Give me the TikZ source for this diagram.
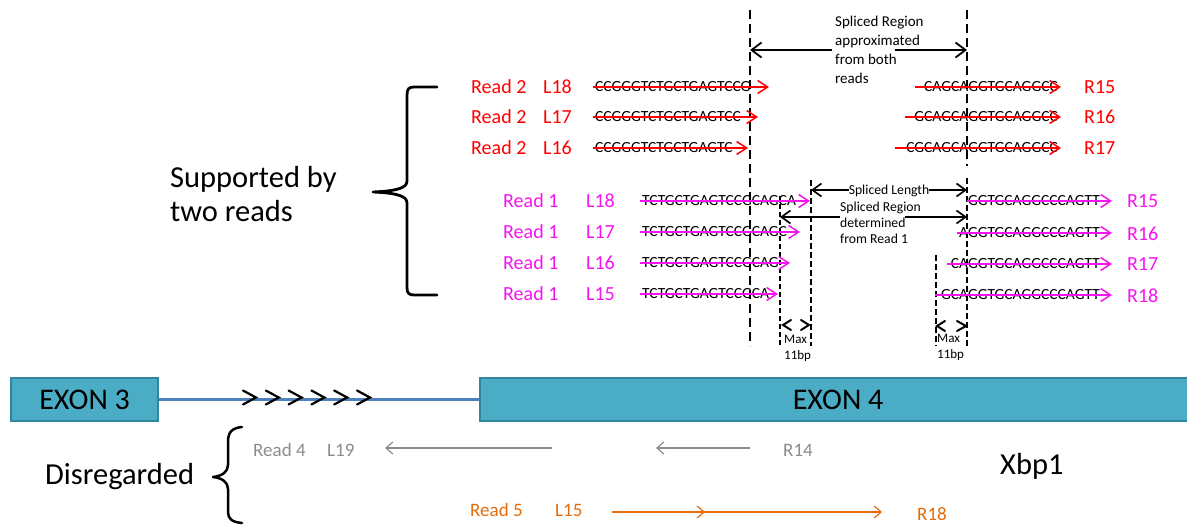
\documentclass[tikz,border=0pt]{standalone}
\usepackage{fontspec}
\setmainfont{Carlito}
\usetikzlibrary{arrows.meta}
\definecolor{rd}{RGB}{255,0,0}
\definecolor{mg}{RGB}{245,20,240}
\definecolor{gr}{RGB}{140,140,140}
\definecolor{og}{RGB}{228,108,10}
\definecolor{exfill}{RGB}{75,172,198}
\definecolor{exline}{RGB}{49,133,156}
\definecolor{intron}{RGB}{79,129,189}
\tikzset{
  lbl/.style={inner sep=0pt, anchor=west, text height=12.9pt, text depth=0pt, font=\fontsize{20}{24}\selectfont},
  glbl/.style={inner sep=0pt, anchor=west, text height=12.2pt, text depth=0pt, font=\fontsize{19}{22}\selectfont},
  seqL/.style={inner sep=0pt, anchor=west, text height=10pt, text depth=0pt, font=\fontsize{15.5}{18}\selectfont},
  seqR/.style={seqL, anchor=east},
  bigtxt/.style={inner sep=0pt, font=\fontsize{30.5}{34}\selectfont, align=left},
  bigone/.style={inner sep=0pt, anchor=west, text height=19.6pt, text depth=0pt, font=\fontsize{30.5}{34}\selectfont},
  small/.style={inner sep=0pt, font=\fontsize{13.7}{16}\selectfont, align=left},
  strike/.style={line width=1.5pt, -{Straight Barb[length=10pt,width=13pt,line width=1.5pt]}},
  ann/.style={line width=1.7pt, -{Straight Barb[length=9pt,width=13pt,line width=1.7pt]}},
  thinarr/.style={line width=1.2pt, -{Straight Barb[length=7pt,width=12pt,line width=1.2pt]}},
  bigdash/.style={line width=2.3pt, dash pattern=on 9pt off 5pt},
  meddash/.style={line width=1.5pt, dash pattern=on 6pt off 3pt},
  brace/.style={line width=2.8pt, line cap=round, line join=round},
  exon/.style={draw=exline, line width=2.2pt, fill=exfill, inner sep=0pt, anchor=north west, minimum height=43pt, font=\fontsize{30}{34}\selectfont},
  chev/.style={line width=2pt, line cap=round, line join=miter}
}
\begin{document}
\begin{tikzpicture}[x=1pt,y=-1pt]
\useasboundingbox (0,0) rectangle (1187,526);
\clip (0,0) rectangle (1187,526);

% ---------- gene model ----------
\node[exon, minimum width=147pt] (ex3) at (10,377) {EXON 3};
\node[exon, minimum width=716pt] (ex4) at (479,377) {EXON 4};
\draw[intron, line width=2.6pt] (ex3.east) -- (ex4.west);
\foreach \i in {0,...,5} {
  \draw[chev, line width=2.2pt] (243+22.8*\i,390.5) -- (256+22.8*\i,397.5) -- (243+22.8*\i,404.5);
}

% ---------- left labels and braces ----------
\node[bigtxt, anchor=north west] (supp) at (170,166) {Supported by\\two reads};
\draw[brace] (437,87) -- (414,87) .. controls (409,87) and (407,89) .. (407,95) -- (407,181)
  .. controls (407,188) and (397,191) .. (373,192) .. controls (397,193) and (407,196) .. (407,203)
  -- (407,288) .. controls (407,293) and (409,295) .. (414,295) -- (437,295);
\node[bigone] (disr) at (45,475) {Disregarded};
\draw[brace, line width=2.5pt] (242,427) .. controls (232,428) and (228,432) .. (228,442) -- (228,465)
  .. controls (228,472) and (222,476) .. (213,477) .. controls (222,478) and (228,482) .. (228,489)
  -- (228,512) .. controls (228,519) and (232,522) .. (242,523);
\node[bigone] (xbp) at (1000,465) {Xbp1};

% ---------- dashed guide lines ----------
\coordinate (dA1) at (750,10);  \coordinate (dA2) at (750,346);
\coordinate (dB1) at (967,10);  \coordinate (dB2) at (967,166);
\coordinate (dB3) at (967,178); \coordinate (dB4) at (967,346);
\coordinate (dC1) at (811,180); \coordinate (dC2) at (811,346);
\coordinate (dD1) at (780,196); \coordinate (dD2) at (780,346);
\coordinate (dE1) at (936,255); \coordinate (dE2) at (936,346);
\draw[bigdash] (dA1) -- (dA2);
\draw[bigdash] (dB1) -- (dB2);
\draw[meddash] (dB3) -- (dB4);
\draw[meddash] (dC1) -- (dC2);
\draw[meddash, line width=1.3pt, dash pattern=on 5pt off 3pt] (dD1) -- (dD2);
\draw[meddash] (dE1) -- (dE2);

% ---------- annotations ----------
\node[small, anchor=north west, font=\fontsize{15}{19}\selectfont] (apx) at (835,16)
  {Spliced Region\\approximated\\from both\\reads};
\coordinate (apxL) at (832,50); \coordinate (apxR) at (895,50);
\coordinate (apxA) at (750,50); \coordinate (apxB) at (967,50);
\draw[ann, -{Straight Barb[length=10pt,width=15pt,line width=1.8pt]}, line width=1.8pt] (apxL) -- (apxA);
\draw[ann, -{Straight Barb[length=10pt,width=15pt,line width=1.8pt]}, line width=1.8pt] (apxR) -- (apxB);

\node[small, anchor=center, text height=8.8pt, text depth=0pt] (slen) at (889,190) {Spliced Length};
\coordinate (slA) at (811,190); \coordinate (slB) at (967,190);
\draw[ann] (slen.west) -- (slA);
\draw[ann] (slen.east) -- (slB);

\node[small, anchor=north west] (sdet) at (840,202) {Spliced Region\\determined\\from Read 1};
\coordinate (sdL) at (840,217); \coordinate (sdR) at (905,217);
\coordinate (sdA) at (780,217); \coordinate (sdB) at (967,217);
\draw[ann] (sdL) -- (sdA);
\draw[ann] (sdR) -- (sdB);

% Max 11bp markers
\draw[chev] (791,320) -- (783,325) -- (791,330);
\draw[chev] (801,320) -- (809,325) -- (801,330);
\node[small, anchor=north west, font=\fontsize{13}{16}\selectfont] (max1) at (784,334.5) {Max\\11bp};
\draw[chev] (945,321) -- (937,326) -- (945,331);
\draw[chev] (957,321) -- (966,326) -- (957,331);
\node[small, anchor=north west, font=\fontsize{13}{16}\selectfont] (max2) at (937,333.5) {Max\\11bp};

% ---------- Read 2 (red) ----------
\node[lbl, text=rd] (r2a) at (471,87) {Read 2};
\node[lbl, text=rd] (r2al) at (543,87) {L18};
\node[seqL] (r2as) at (595,87) {CCGGGTCTGCTGAGTCCG};
\coordinate (r2a0) at (593,87); \coordinate (r2a1) at (769,87);
\draw[strike, rd] (r2a0) -- (r2a1);
\node[seqR] (r2at) at (1058,87) {CAGCAGGTGCAGGCC};
\coordinate (r2a2) at (915,87); \coordinate (r2a3) at (1061,87);
\draw[strike, rd] (r2a2) -- (r2a3);
\node[lbl, text=rd] (r2ar) at (1084,87) {R15};

\node[lbl, text=rd] (r2b) at (471,117) {Read 2};
\node[lbl, text=rd] (r2bl) at (543,117) {L17};
\node[seqL] (r2bs) at (595,117) {CCGGGTCTGCTGAGTCC};
\coordinate (r2b0) at (593,117); \coordinate (r2b1) at (758,117);
\draw[strike, rd] (r2b0) -- (r2b1);
\node[seqR] (r2bt) at (1058,117) {GCAGCAGGTGCAGGCC};
\coordinate (r2b2) at (905,117); \coordinate (r2b3) at (1061,117);
\draw[strike, rd] (r2b2) -- (r2b3);
\node[lbl, text=rd] (r2br) at (1084,117) {R16};

\node[lbl, text=rd] (r2c) at (471,148) {Read 2};
\node[lbl, text=rd] (r2cl) at (543,148) {L16};
\node[seqL] (r2cs) at (595,148) {CCGGGTCTGCTGAGTC};
\coordinate (r2c0) at (593,148); \coordinate (r2c1) at (748,148);
\draw[strike, rd] (r2c0) -- (r2c1);
\node[seqR] (r2ct) at (1058,148) {CGCAGCAGGTGCAGGCC};
\coordinate (r2c2) at (895,148); \coordinate (r2c3) at (1061,148);
\draw[strike, rd] (r2c2) -- (r2c3);
\node[lbl, text=rd] (r2cr) at (1084,148) {R17};

% ---------- Read 1 (magenta) ----------
\node[lbl, text=mg] (r1a) at (503,201) {Read 1};
\node[lbl, text=mg] (r1al) at (586,201) {L18};
\node[seqL] (r1as) at (642,201) {TCTGCTGAGTCCGCAGCA};
\coordinate (r1a0) at (640,201); \coordinate (r1a1) at (810,201);
\draw[strike, mg] (r1a0) -- (r1a1);
\node[seqR] (r1at) at (1100,201) {GGTGCAGGCCCAGTT};
\coordinate (r1a2) at (967,201); \coordinate (r1a3) at (1112,201);
\draw[strike, mg] (r1a2) -- (r1a3);
\node[lbl, text=mg] (r1ar) at (1127,201) {R15};

\node[lbl, text=mg] (r1b) at (503,232) {Read 1};
\node[lbl, text=mg] (r1bl) at (586,232) {L17};
\node[seqL] (r1bs) at (642,232) {TCTGCTGAGTCCGCAGC};
\coordinate (r1b0) at (640,232); \coordinate (r1b1) at (800,232);
\draw[strike, mg] (r1b0) -- (r1b1);
\node[seqR] (r1bt) at (1100,233) {AGGTGCAGGCCCAGTT};
\coordinate (r1b2) at (957,233); \coordinate (r1b3) at (1112,233);
\draw[strike, mg] (r1b2) -- (r1b3);
\node[lbl, text=mg] (r1br) at (1127,234) {R16};

\node[lbl, text=mg] (r1c) at (503,263) {Read 1};
\node[lbl, text=mg] (r1cl) at (586,263) {L16};
\node[seqL] (r1cs) at (642,263) {TCTGCTGAGTCCGCAG};
\coordinate (r1c0) at (640,263); \coordinate (r1c1) at (790,263);
\draw[strike, mg] (r1c0) -- (r1c1);
\node[seqR] (r1ct) at (1100,264) {CAGGTGCAGGCCCAGTT};
\coordinate (r1c2) at (947,264); \coordinate (r1c3) at (1112,264);
\draw[strike, mg] (r1c2) -- (r1c3);
\node[lbl, text=mg] (r1cr) at (1127,264) {R17};

\node[lbl, text=mg] (r1d) at (503,294) {Read 1};
\node[lbl, text=mg] (r1dl) at (586,294) {L15};
\node[seqL] (r1ds) at (642,294) {TCTGCTGAGTCCGCA};
\coordinate (r1d0) at (640,294); \coordinate (r1d1) at (778,294);
\draw[strike, mg] (r1d0) -- (r1d1);
\node[seqR] (r1dt) at (1100,295) {GCAGGTGCAGGCCCAGTT};
\coordinate (r1d2) at (935,295); \coordinate (r1d3) at (1112,295);
\draw[strike, mg] (r1d2) -- (r1d3);
\node[lbl, text=mg] (r1dr) at (1127,296) {R18};

% ---------- disregarded reads ----------
\node[glbl, text=gr] (r4) at (253,450) {Read 4};
\node[glbl, text=gr] (r4l) at (327,450) {L19};
\coordinate (g1s) at (552,448); \coordinate (g1e) at (385,448);
\draw[thinarr, gr] (g1s) -- (g1e);
\coordinate (g2s) at (750,448); \coordinate (g2e) at (656,448);
\draw[thinarr, gr] (g2s) -- (g2e);
\node[glbl, text=gr] (r4r) at (783,450) {R14};

\node[glbl, text=og] (r5) at (470,510) {Read 5};
\node[glbl, text=og] (r5l) at (555,510) {L15};
\coordinate (o1) at (612,512); \coordinate (om) at (705,512); \coordinate (om2) at (700,512); \coordinate (o2) at (882,512);
\draw[thinarr, og, line width=1.4pt] (o1) -- (om);
\draw[thinarr, og, line width=1.4pt] (om2) -- (o2);
\node[glbl, text=og] (r5r) at (917,514) {R18};
\end{tikzpicture}
\end{document}
